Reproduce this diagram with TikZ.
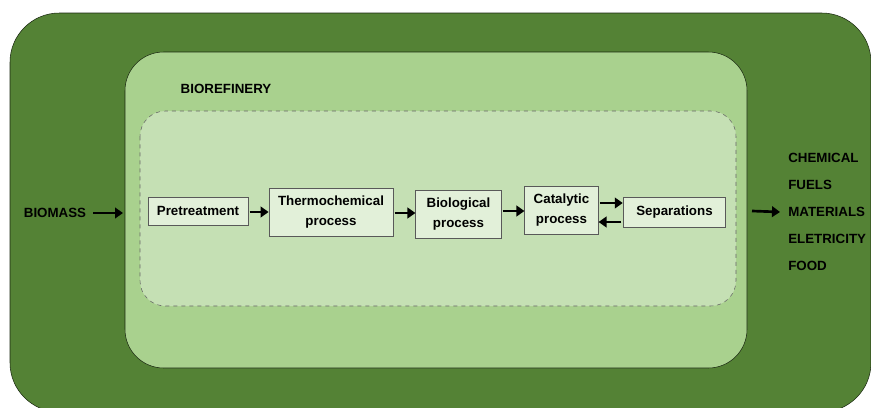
\documentclass[tikz,border=0pt]{standalone}
\usepackage{fontspec}
\setmainfont{Liberation Sans}
\usetikzlibrary{arrows.meta,positioning}
\definecolor{darkleaf}{HTML}{548235}
\definecolor{midleaf}{HTML}{A9D18E}
\definecolor{paleleaf}{HTML}{C5E0B4}
\definecolor{boxleaf}{HTML}{E2F0D9}
\begin{document}
\begin{tikzpicture}[x=0.75pt,y=-0.75pt,font=\bfseries\fontsize{10}{12}\selectfont]
    \tikzstyle{stage}=[draw=black!65, fill=boxleaf, line width=0.6pt, align=center, inner sep=1pt]
    \tikzstyle{flow}=[-{Triangle[length=6pt,width=8pt]}, line width=2pt, black]
    \tikzstyle{product}=[anchor=west, inner sep=0pt]
    \useasboundingbox (0,0) rectangle (871,407);
    \begin{scope}
    \clip (0,0) rectangle (871,407);
    \filldraw[fill=darkleaf, draw=black!70!darkleaf, rounded corners=37pt] (10,13) rectangle (871,412);
    \end{scope}
    \filldraw[fill=midleaf, draw=black!70!darkleaf, rounded corners=29pt] (125,52) rectangle (747,368);
    \filldraw[fill=paleleaf, draw=black!60, dashed, rounded corners=19pt] (140,111) rectangle (736,306);
    \node[inner sep=0pt] (refinery) at (226,89) {BIOREFINERY};
    % process chain
    \node[stage, minimum width=75pt, minimum height=21pt] (pre) at (198,211) {Pretreatment};
    \node[stage, minimum width=93pt, minimum height=36pt] (thermo) at (331,212) {Thermochemical\\[3pt]process};
    \node[stage, minimum width=64pt, minimum height=36pt] (bio) at (458.5,214) {Biological\\[3pt]process};
    \node[stage, minimum width=55pt, minimum height=36pt] (cat) at (561.5,210) {Catalytic\\[3pt]process};
    \node[stage, minimum width=77pt, minimum height=22.5pt] (sep) at (674.5,212) {Separations};
    \draw[flow] ([xshift=1pt]pre.east |- 0,212) -- (thermo.west |- 0,212);
    \draw[flow] ([xshift=1pt]thermo.east |- 0,213) -- (bio.west |- 0,213);
    \draw[flow] ([xshift=1pt]bio.east |- 0,211) -- (cat.west |- 0,211);
    \draw[flow] ([xshift=1pt]cat.east |- 0,203) -- (sep.west |- 0,203);
    \draw[flow] ([xshift=-1pt]sep.west |- 0,222) -- (cat.east |- 0,222);
    % input and outputs
    \node[inner sep=0pt] (biomass) at (55,213) {BIOMASS};
    \coordinate (in) at (123,213);
    \draw[flow] ([xshift=5pt]biomass.east) -- (in);
    \node[product] (chem) at (788,158) {CHEMICAL};
    \node[product] (fuels) at (788,185) {FUELS};
    \node[product] (mat) at (788,212) {MATERIALS};
    \node[product] (elec) at (788,239) {ELETRICITY};
    \node[product] (food) at (788,266) {FOOD};
    \coordinate (out) at (752,211);
    \draw[flow] (out) -- ([xshift=-6pt]mat.west);
\end{tikzpicture}
\end{document}
